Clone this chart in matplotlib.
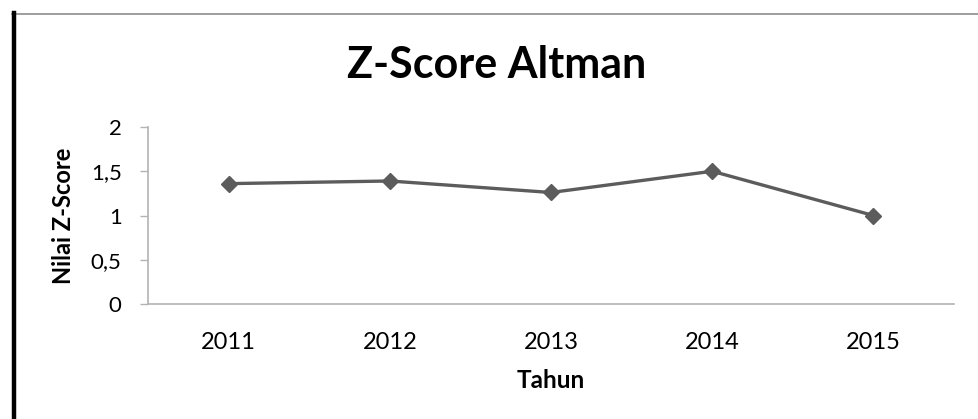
import matplotlib.pyplot as plt
from matplotlib.lines import Line2D
from matplotlib.ticker import FuncFormatter

years = ['2011', '2012', '2013', '2014', '2015']
z_score = [1.36, 1.39, 1.26, 1.50, 1.00]
y_ticks = [0, 0.5, 1, 1.5, 2]

plt.rcParams['font.family'] = ['Lato', 'DejaVu Sans']

W, H = 979, 419
fig = plt.figure(figsize=(W / 100, H / 100), dpi=100)

# frame of the chart area (thick left edge, thin top edge)
fig.add_artist(Line2D([12 / W, 1.0], [1 - 14.5 / H, 1 - 14.5 / H],
                      transform=fig.transFigure, color='#8c8c8c', lw=1.2))
fig.add_artist(Line2D([14 / W, 14 / W], [0, 1 - 13 / H],
                      transform=fig.transFigure, color='black', lw=3.2))

ax = fig.add_axes([148 / W, 1 - 304 / H, (954 - 148) / W, (304 - 127) / H])

x = range(len(years))
ax.plot(x, z_score, color='#5c5c5c', lw=2.4, marker='D', markersize=8.5,
        markeredgecolor='#5c5c5c', markerfacecolor='#5c5c5c', solid_joinstyle='miter')

ax.set_xlim(-0.5, len(years) - 0.5)
ax.set_ylim(0, 2)
ax.set_xticks(list(x))
ax.set_xticklabels(years)
ax.set_yticks(y_ticks)
ax.yaxis.set_major_formatter(FuncFormatter(lambda v, p: f'{v:g}'.replace('.', ',')))

for s in ['top', 'right']:
    ax.spines[s].set_visible(False)
for s in ['left', 'bottom']:
    ax.spines[s].set_color('#b3b3b3')
    ax.spines[s].set_linewidth(1.2)

ax.tick_params(axis='y', length=6, width=1, color='#b3b3b3', labelsize=16, pad=13)
ax.tick_params(axis='x', length=0, labelsize=17, pad=20)

ax.set_xlabel('Tahun', fontsize=17.5, fontweight='bold', labelpad=12)
ax.set_ylabel('Nilai Z-Score', fontsize=17, fontweight='bold', labelpad=11)

fig.text(497 / W, 1 - 77.5 / H, 'Z-Score Altman', ha='center', va='baseline',
         fontsize=31, fontweight='bold')

fig.savefig('out.png', dpi=100)
